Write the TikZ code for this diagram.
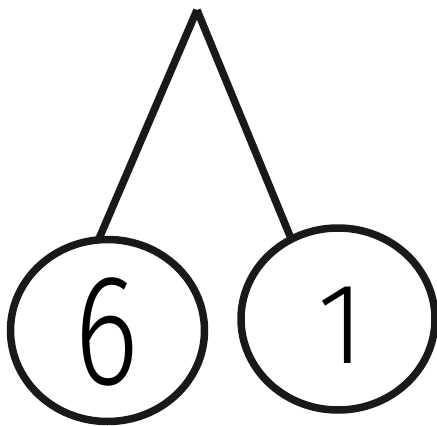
\documentclass[tikz,border=0pt]{standalone}
\usepackage{fontspec}
\setmainfont{Fira Sans Light}
\usetikzlibrary{shapes.geometric}
\begin{document}
\begin{tikzpicture}[x=1pt,y=-1pt,
  ring/.style={draw=black!90,line width=7.5pt,ellipse,minimum width=194pt,minimum height=182pt,inner sep=0pt},
  stem/.style={draw=black!90,line width=7.5pt}]
\useasboundingbox (0,0) rectangle (437,426);
\node[ring] (L) at (107.5,330.5) {};
\node[ring] (R) at (338,319) {};
\coordinate (top) at (197,10);
\coordinate (lt) at (98,241);
\coordinate (rt) at (290,236);
\draw[stem] (top) -- (lt);
\draw[stem] (top) -- (rt);
\node[font=\fontsize{158}{158}\selectfont,inner sep=0pt,xscale=0.78] (six) at (107,332) {6};
\node[font=\fontsize{115}{115}\selectfont,inner sep=0pt] (one) at (341,325) {1};
\end{tikzpicture}
\end{document}
